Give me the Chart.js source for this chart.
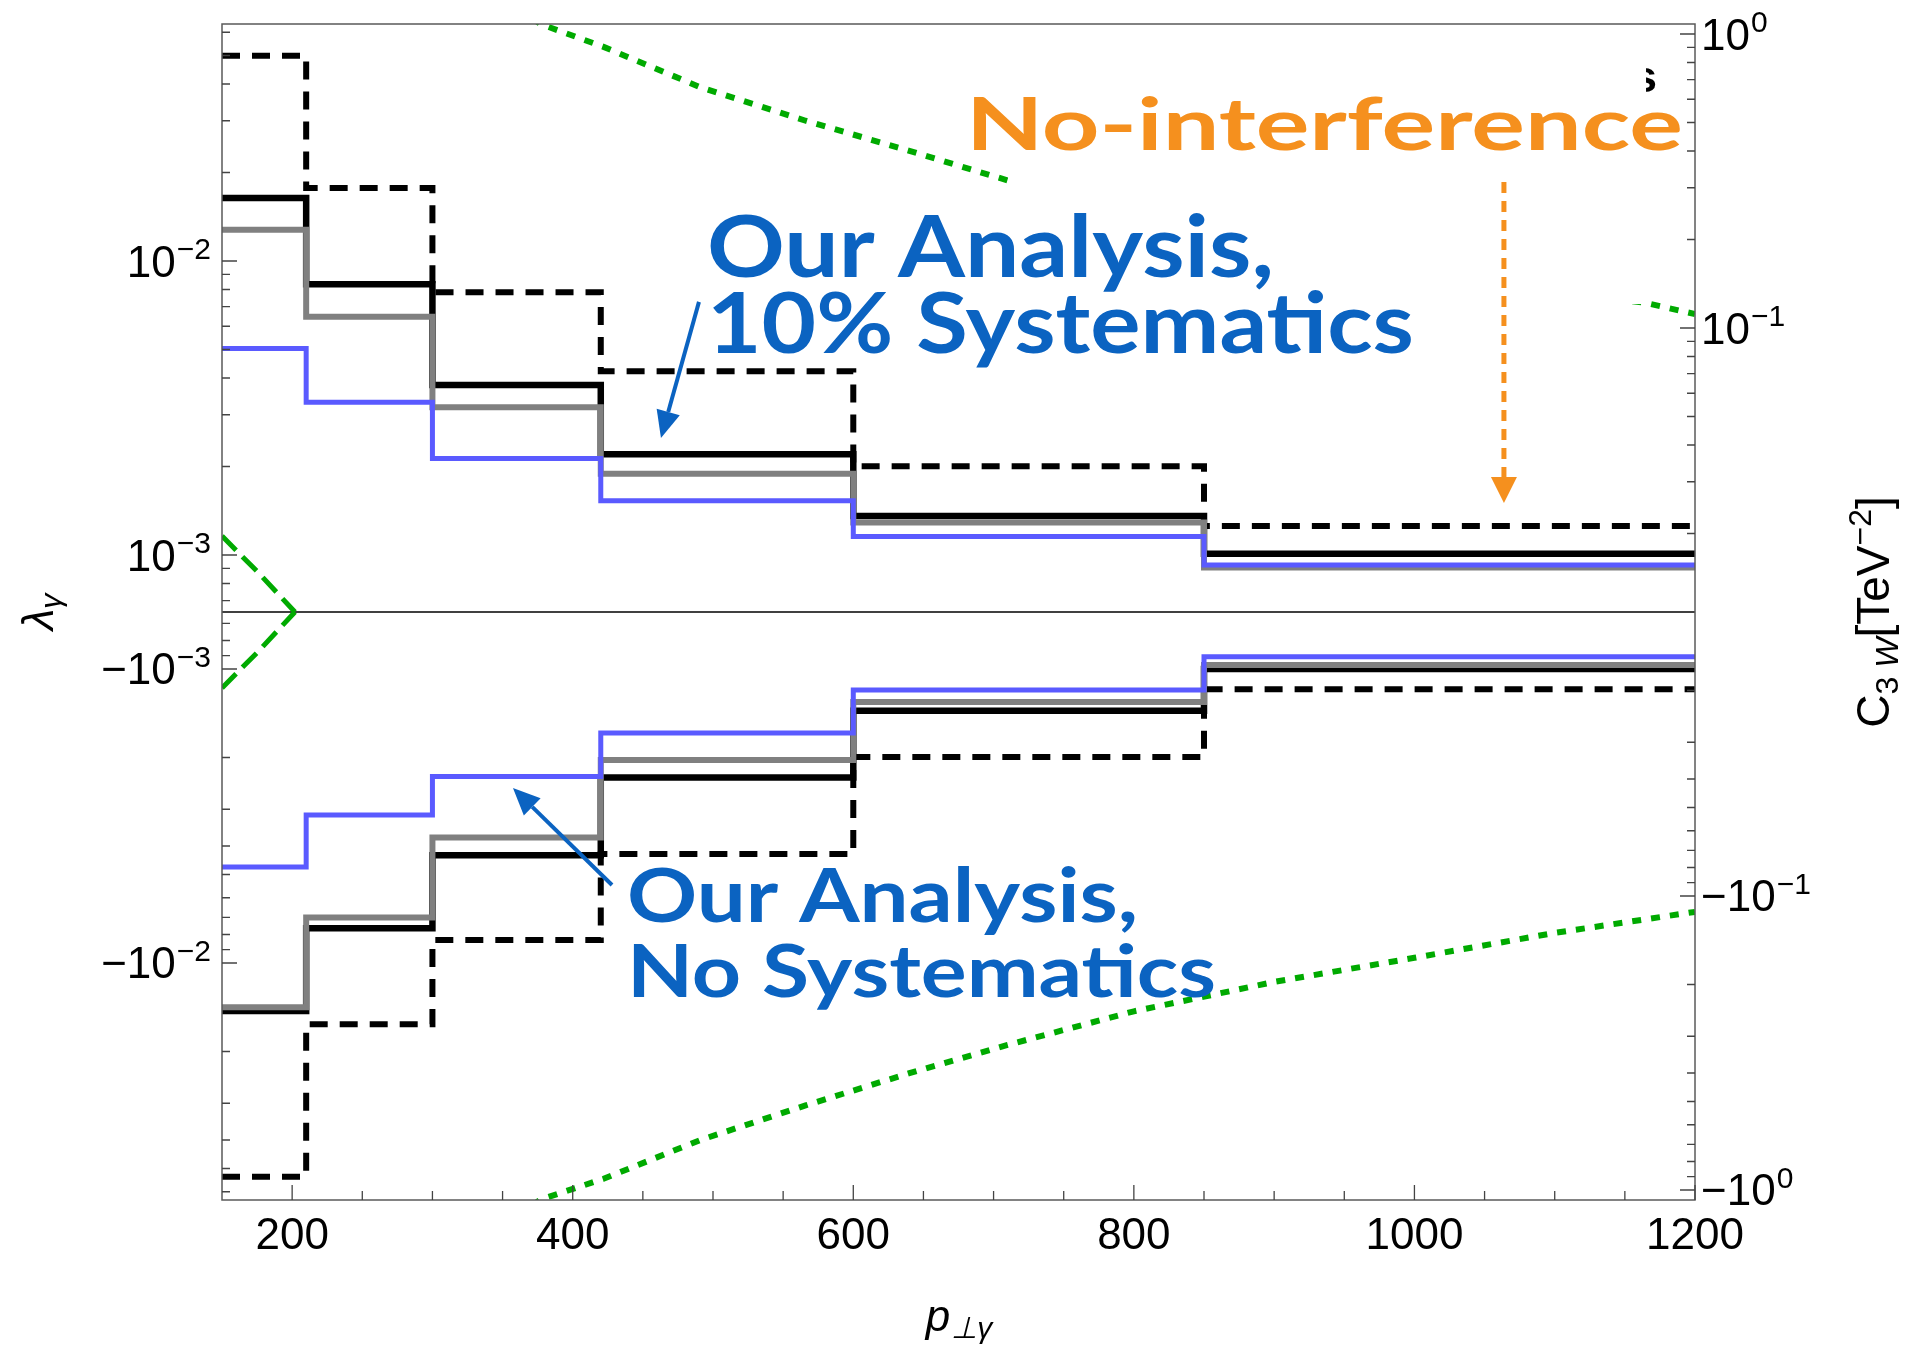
<!DOCTYPE html>
<html>
<head>
<meta charset="utf-8">
<script src="https://cdn.jsdelivr.net/npm/chart.js@4.4.1/dist/chart.umd.min.js"></script>
<style>
  html, body { margin: 0; padding: 0; background: #fff; }
  canvas { display: block; }
</style>
</head>
<body>
<canvas id="lambdaChart" width="1905" height="1349"></canvas>
<script>
// p_T bin edges, every histogram has one value per bin (last one repeated to close the step)
const binEdges = [150, 210, 300, 420, 600, 850, 1200];

const sys10Upper = [0.01637, 0.00833, 0.00379, 0.00220, 0.001357, 0.00101, 0.00101];
const sys10Lower = [-0.01456, -0.00762, -0.00430, -0.00234, -0.001387, -0.00100, -0.00100];
const grayUpper = [0.01278, 0.00646, 0.00318, 0.00189, 0.001289, 0.000906, 0.000906];
const grayLower = [-0.01415, -0.00701, -0.00374, -0.00204, -0.001295, -0.000969, -0.000969];
const noSysUpper = [0.00504, 0.00331, 0.00213, 0.00153, 0.001155, 0.000924, 0.000924];
const noSysLower = [-0.00472, -0.00314, -0.00232, -0.00165, -0.001179, -0.000908, -0.000908];
const dashedUpper = [0.0499, 0.0177, 0.00783, 0.00422, 0.002006, 0.001256, 0.001256];
const dashedLower = [-0.0533, -0.01617, -0.00835, -0.00426, -0.001992, -0.001172, -0.001172];

// green dotted bound
const greenX = [360, 377, 422, 491, 566, 640, 710, 800, 900, 1000, 1100, 1165, 1200];
const greenUpper = [0.073, 0.064, 0.0535, 0.039, 0.030, 0.0237, 0.0188, 0.0148, 0.0117, 0.0095, 0.0079, 0.0072, 0.0066];
const greenLower = [-0.073, -0.0638, -0.0542, -0.040, -0.0305, -0.0237, -0.0190, -0.0146, -0.0116, -0.0096, -0.0079, -0.0071, -0.0067];

// green dashed bound near the low end
const vX = [150, 176, 202];
const vUpper = [0.00116, 0.00087, 0];
const vLower = [-0.00116, -0.00087, 0];

// axis ticks
const xMajorTicks = [200, 400, 600, 800, 1000, 1200];
const xMinorTicks = [250, 300, 350, 450, 500, 550, 650, 700, 750, 850, 900, 950, 1050, 1100, 1150];
const yMajorTicks = [0.01, 0.001, -0.001, -0.01];
const yMinorTicks = [0.06, 0.05, 0.04, 0.03, 0.02, 0.009, 0.008, 0.007, 0.006, 0.005, 0.004, 0.003, 0.002,
  0.0009, 0.0008, 0.0007,
  -0.0007, -0.0008, -0.0009, -0.002, -0.003, -0.004, -0.005, -0.006, -0.007, -0.008, -0.009,
  -0.02, -0.03, -0.04, -0.05, -0.06];
const y2MajorTicks = [1, 0.1, -0.1, -1];
const y2MinorTicks = [0.9, 0.8, 0.7, 0.6, 0.5, 0.4, 0.3, 0.2, 0.09, 0.08, 0.07, 0.06, 0.05, 0.04, 0.03, 0.02,
  -0.02, -0.03, -0.04, -0.05, -0.06, -0.07, -0.08, -0.09, -0.2, -0.3, -0.4, -0.5, -0.6, -0.7, -0.8, -0.9];

const LAMBDA_RANGE = 0.064;  // plot spans -0.064 .. 0.064
const CUT = 6.4e-4;          // |lambda| below this collapses onto the zero line
const C3W_FACTOR = 16.9;     // C3W [TeV^-2] per unit lambda

const F = '"Liberation Sans", Arial, sans-serif';
const HAND = 'Lato, "Open Sans", sans-serif';

function toT(v) {
  const a = Math.abs(v);
  if (a <= CUT) return 0;
  return Math.sign(v) * Math.log10(a / CUT);
}
function fromT(t) {
  if (t === 0) return 0;
  return Math.sign(t) * CUT * Math.pow(10, Math.abs(t));
}

// log scale on each side of zero, glued together at +-CUT
class SymLogScale extends Chart.LinearScale {
  determineDataLimits() {
    const f = this.options.factor || 1;
    this.min = toT(this.options.min / f);
    this.max = toT(this.options.max / f);
  }
  buildTicks() {
    return (this.options.tickValues || []).map(v => ({ value: v }));
  }
  getPixelForValue(value) {
    const f = this.options.factor || 1;
    return this.getPixelForDecimal((toT(value / f) - this._startValue) / this._valueRange);
  }
  getValueForPixel(pixel) {
    const f = this.options.factor || 1;
    return f * fromT(this._startValue + this.getDecimalForPixel(pixel) * this._valueRange);
  }
}
SymLogScale.id = 'symlog';
Chart.register(SymLogScale);

// hand written notes, positions in data units (pT, lambda)
const notes = [
  { text: 'No-interference', x: 680.3, y: 0.02385, cap: 53, width: 717, color: '#f5901e' },
  { text: 'Our Analysis,', x: 495.7, y: 0.00883, cap: 62, width: 567, color: '#0b63c1' },
  { text: '10% Systematics', x: 495.7, y: 0.004864, cap: 60, width: 707, color: '#0b63c1' },
  { text: 'Our Analysis,', x: 438.7, y: -0.00726, cap: 54, width: 511, color: '#0b63c1' },
  { text: 'No Systematics', x: 438.7, y: -0.01305, cap: 52, width: 589, color: '#0b63c1' }
];
const blueArrows = [
  { from: [490.0, 0.00726], to: [462.9, 0.00250] },
  { from: [428.0, -0.00543], to: [357.4, -0.00254] }
];
const orangeArrow = { from: [1063.8, 0.01857], to: [1063.8, 0.001503] };
const coverBox = { x1: 710.3, x2: 1165.1, y1: 0.06105, y2: 0.00714 };

function stepData(vals) {
  return binEdges.map((x, i) => ({ x: x, y: vals[i] }));
}
function curveData(xs, ys) {
  return xs.map((x, i) => ({ x: x, y: ys[i] }));
}

function handText(ctx, n, px, py) {
  const size = n.cap / 0.72;
  ctx.save();
  ctx.font = 'bold ' + size + 'px ' + HAND;
  const w = ctx.measureText(n.text).width;
  ctx.translate(px(n.x), py(n.y));
  ctx.scale(n.width / w, 1);
  ctx.fillStyle = n.color;
  ctx.textBaseline = 'alphabetic';
  ctx.fillText(n.text, 0, 0);
  ctx.restore();
}

function arrow(ctx, x1, y1, x2, y2, color, width, dash, headLen, headHalf) {
  const ang = Math.atan2(y2 - y1, x2 - x1);
  const bx = x2 - headLen * Math.cos(ang), by = y2 - headLen * Math.sin(ang);
  ctx.save();
  ctx.strokeStyle = color;
  ctx.fillStyle = color;
  ctx.lineWidth = width;
  ctx.setLineDash(dash);
  ctx.beginPath();
  ctx.moveTo(x1, y1);
  ctx.lineTo(bx, by);
  ctx.stroke();
  ctx.setLineDash([]);
  ctx.beginPath();
  ctx.moveTo(x2, y2);
  ctx.lineTo(bx + headHalf * Math.sin(ang), by - headHalf * Math.cos(ang));
  ctx.lineTo(bx - headHalf * Math.sin(ang), by + headHalf * Math.cos(ang));
  ctx.closePath();
  ctx.fill();
  ctx.restore();
}

// "10^n" style label, centred on tick y
function powLabel(ctx, value, x, y, align) {
  const neg = value < 0;
  const e = Math.round(Math.log10(Math.abs(value)));
  const sup = e < 0 ? '\u2212' + (-e) : String(e);
  ctx.save();
  ctx.fillStyle = '#000';
  ctx.textBaseline = 'alphabetic';
  ctx.textAlign = 'left';
  ctx.font = '44px ' + F;
  const wMinus = neg ? ctx.measureText('\u2212').width : 0;
  const w10 = ctx.measureText('10').width;
  ctx.font = '30px ' + F;
  const wSup = ctx.measureText(sup).width;
  const total = wMinus + w10 + 1 + wSup;
  let x0 = align === 'right' ? x - total : x;
  ctx.font = '44px ' + F;
  if (neg) ctx.fillText('\u2212', x0, y + 15.5);
  ctx.fillText('10', x0 + wMinus, y + 15.5);
  ctx.font = '30px ' + F;
  ctx.fillText(sup, x0 + wMinus + w10 + 1, y - 2);
  ctx.restore();
}

const decorPlugin = {
  id: 'decor',
  beforeDatasetsDraw(chart) {
    const { ctx, chartArea: a, scales } = chart;
    const y0 = scales.y.getPixelForValue(0);
    ctx.save();
    ctx.strokeStyle = '#000';
    ctx.lineWidth = 1.5;
    ctx.beginPath();
    ctx.moveTo(a.left, y0);
    ctx.lineTo(a.right, y0);
    ctx.stroke();
    ctx.restore();
  },
  afterDatasetsDraw(chart) {
    const { ctx, chartArea: a, scales } = chart;
    const xs = scales.x, ys = scales.y, ys2 = scales.y2;
    const px = v => xs.getPixelForValue(v);
    const py = v => ys.getPixelForValue(v);

    // remnant of an old legend entry, mostly covered by the note's white patch
    ctx.save();
    ctx.fillStyle = '#000';
    ctx.font = 'bold 44px ' + F;
    ctx.fillText('s', px(1155.5), py(0.03757));
    ctx.restore();

    ctx.save();
    ctx.fillStyle = '#fff';
    const bx1 = px(coverBox.x1), bx2 = px(coverBox.x2), by1 = py(coverBox.y1), by2 = py(coverBox.y2);
    ctx.fillRect(bx1, by1, bx2 - bx1, by2 - by1);
    ctx.restore();

    notes.forEach(n => handText(ctx, n, px, py));

    arrow(ctx, px(orangeArrow.from[0]), py(orangeArrow.from[1]), px(orangeArrow.to[0]), py(orangeArrow.to[1]),
      '#f5901e', 5, [11, 8], 26, 13);
    blueArrows.forEach(ar => {
      arrow(ctx, px(ar.from[0]), py(ar.from[1]), px(ar.to[0]), py(ar.to[1]), '#0b63c1', 4, [], 27, 12);
    });

    // frame
    ctx.save();
    ctx.strokeStyle = '#5a5a5a';
    ctx.lineWidth = 1.5;
    ctx.strokeRect(a.left, a.top, a.right - a.left, a.bottom - a.top);

    // ticks, pointing inwards
    ctx.strokeStyle = '#444';
    ctx.lineWidth = 1.3;
    ctx.beginPath();
    xMajorTicks.forEach(v => { const p = px(v); ctx.moveTo(p, a.bottom); ctx.lineTo(p, a.bottom - 15); });
    xMinorTicks.forEach(v => { const p = px(v); ctx.moveTo(p, a.bottom); ctx.lineTo(p, a.bottom - 9); });
    yMajorTicks.forEach(v => { const p = py(v); ctx.moveTo(a.left, p); ctx.lineTo(a.left + 15, p); });
    yMinorTicks.forEach(v => { const p = py(v); ctx.moveTo(a.left, p); ctx.lineTo(a.left + 8, p); });
    y2MajorTicks.forEach(v => { const p = ys2.getPixelForValue(v); ctx.moveTo(a.right, p); ctx.lineTo(a.right - 15, p); });
    y2MinorTicks.forEach(v => { const p = ys2.getPixelForValue(v); ctx.moveTo(a.right, p); ctx.lineTo(a.right - 8, p); });
    ctx.stroke();
    ctx.restore();

    // y tick labels
    yMajorTicks.forEach(v => powLabel(ctx, v, a.left - 11, py(v), 'right'));
    y2MajorTicks.forEach(v => powLabel(ctx, v, a.right + 6, ys2.getPixelForValue(v), 'left'));

    // x title
    ctx.save();
    ctx.fillStyle = '#000';
    ctx.font = 'italic 44px ' + F;
    const wp = ctx.measureText('p').width;
    ctx.font = 'italic 30px ' + F;
    const wsub = ctx.measureText('\u22a5\u03b3').width;
    const cx = (a.left + a.right) / 2;
    const xt = cx - (wp + wsub) / 2;
    ctx.font = 'italic 44px ' + F;
    ctx.fillText('p', xt, 1331);
    ctx.font = 'italic 30px ' + F;
    ctx.fillText('\u22a5\u03b3', xt + wp + 1, 1338);
    ctx.restore();

    // left title, rotated
    const cy = (a.top + a.bottom) / 2;
    ctx.save();
    ctx.fillStyle = '#000';
    ctx.translate(53, cy);
    ctx.rotate(-Math.PI / 2);
    ctx.font = 'italic 44px ' + F;
    const wl = ctx.measureText('\u03bb').width;
    ctx.font = 'italic 30px ' + F;
    const wg = ctx.measureText('\u03b3').width;
    let s = -(wl + wg) / 2;
    ctx.font = 'italic 44px ' + F;
    ctx.fillText('\u03bb', s, 0);
    ctx.font = 'italic 30px ' + F;
    ctx.fillText('\u03b3', s + wl, 8);
    ctx.restore();

    // right title, rotated: C_{3 W}[TeV^{-2}]
    ctx.save();
    ctx.fillStyle = '#000';
    ctx.translate(1889, cy);
    ctx.rotate(-Math.PI / 2);
    const parts = [
      { t: 'C', f: '46px ' + F, dy: 0 },
      { t: '3 ', f: '32px ' + F, dy: 9 },
      { t: 'W', f: 'italic 32px ' + F, dy: 9 },
      { t: '[TeV', f: '46px ' + F, dy: 0 },
      { t: '\u22122', f: '32px ' + F, dy: -18 },
      { t: ']', f: '46px ' + F, dy: 0 }
    ];
    let tw = 0;
    parts.forEach(p => { ctx.font = p.f; p.w = ctx.measureText(p.t).width; tw += p.w; });
    let pos = -tw / 2;
    parts.forEach(p => { ctx.font = p.f; ctx.fillText(p.t, pos, p.dy); pos += p.w; });
    ctx.restore();
  }
};

function drawChart() {
  const lineStyle = (color, width, dash) => ({
    borderColor: color,
    borderWidth: width,
    borderDash: dash || [],
    pointRadius: 0,
    fill: false,
    tension: 0,
    clip: 0
  });

  new Chart(document.getElementById('lambdaChart'), {
    type: 'line',
    data: {
      datasets: [
        { label: 'No systematics (+)', data: stepData(noSysUpper), stepped: 'before', ...lineStyle('#5a5aff', 5) },
        { label: 'No systematics (-)', data: stepData(noSysLower), stepped: 'before', ...lineStyle('#5a5aff', 5) },
        { label: 'gray (+)', data: stepData(grayUpper), stepped: 'before', ...lineStyle('#808080', 6) },
        { label: 'gray (-)', data: stepData(grayLower), stepped: 'before', ...lineStyle('#808080', 6) },
        { label: '10% systematics (+)', data: stepData(sys10Upper), stepped: 'before', ...lineStyle('#000000', 6.5) },
        { label: '10% systematics (-)', data: stepData(sys10Lower), stepped: 'before', ...lineStyle('#000000', 6.5) },
        { label: 'No interference (+)', data: stepData(dashedUpper), stepped: 'before', ...lineStyle('#000000', 6, [18, 12]) },
        { label: 'No interference (-)', data: stepData(dashedLower), stepped: 'before', ...lineStyle('#000000', 6, [18, 12]) },
        { label: 'green dotted (+)', data: curveData(greenX, greenUpper), ...lineStyle('#00aa00', 6, [9, 10]) },
        { label: 'green dotted (-)', data: curveData(greenX, greenLower), ...lineStyle('#00aa00', 6, [9, 10]) },
        { label: 'green dashed (+)', data: curveData(vX, vUpper), ...lineStyle('#00aa00', 5, [20, 9]) },
        { label: 'green dashed (-)', data: curveData(vX, vLower), ...lineStyle('#00aa00', 5, [20, 9]) }
      ]
    },
    options: {
      responsive: false,
      animation: false,
      devicePixelRatio: 1,
      layout: { padding: { top: 24, left: 0, right: 0, bottom: 0 } },
      plugins: {
        legend: { display: false },
        tooltip: { enabled: false }
      },
      scales: {
        x: {
          type: 'linear',
          min: 150,
          max: 1200,
          afterBuildTicks: s => { s.ticks = xMajorTicks.map(v => ({ value: v })); },
          ticks: {
            font: { family: 'Liberation Sans', size: 44 },
            color: '#000',
            padding: 10,
            maxRotation: 0,
            autoSkip: false,
            callback: v => String(v)
          },
          grid: { display: false, drawTicks: false },
          border: { display: false },
          afterFit: s => { s.height = 149; }
        },
        y: {
          type: 'symlog',
          position: 'left',
          min: -LAMBDA_RANGE,
          max: LAMBDA_RANGE,
          tickValues: yMajorTicks,
          ticks: { display: false },
          grid: { display: false, drawTicks: false },
          border: { display: false },
          afterFit: s => { s.width = 222; }
        },
        y2: {
          type: 'symlog',
          axis: 'y',
          position: 'right',
          factor: C3W_FACTOR,
          min: -LAMBDA_RANGE * C3W_FACTOR,
          max: LAMBDA_RANGE * C3W_FACTOR,
          tickValues: y2MajorTicks,
          ticks: { display: false },
          grid: { display: false, drawTicks: false },
          border: { display: false },
          afterFit: s => { s.width = 210; }
        }
      }
    },
    plugins: [decorPlugin]
  });
}

Promise.all([
  document.fonts.load('bold 80px Lato'),
  document.fonts.load('44px "Liberation Sans"'),
  document.fonts.load('italic 44px "Liberation Sans"')
]).catch(() => {}).then(drawChart);
</script>
</body>
</html>
